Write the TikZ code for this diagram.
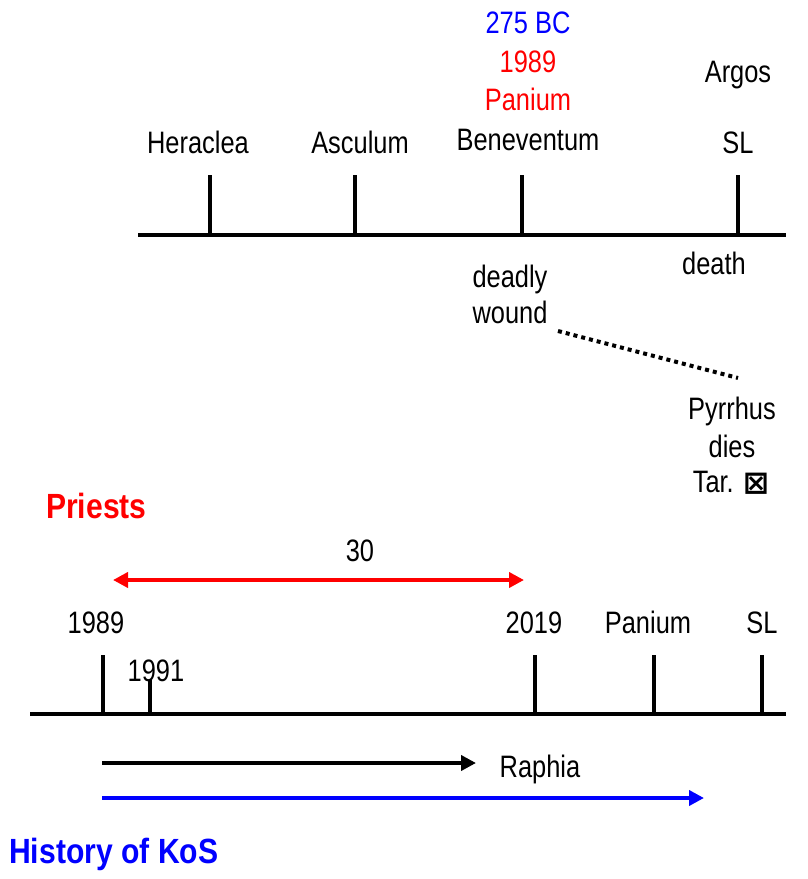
\documentclass[tikz,border=0pt]{standalone}
\usepackage{fontspec}
\setmainfont{Liberation Sans}
\newfontfamily\cond[FakeStretch=0.82]{Liberation Sans}
\newfontfamily\condb[FakeStretch=0.86]{Liberation Sans Bold}
\newfontfamily\symfont{DejaVu Sans Bold}
\usetikzlibrary{arrows.meta}
\tikzset{
  lbl/.style={inner sep=0pt, font=\cond\fontsize{31}{36}\selectfont, text height=22pt, text depth=0pt},
  ttl/.style={inner sep=0pt, font=\condb\fontsize{35}{40}\selectfont, text height=25pt, text depth=0pt, anchor=west},
  axis/.style={line width=4pt},
  tick/.style={line width=4pt},
  arr/.style={line width=4.5pt, -{Triangle[length=15pt,width=15pt]}},
  darr/.style={line width=4.5pt, {Triangle[length=15pt,width=15pt]}-{Triangle[length=15pt,width=15pt]}},
  dotl/.style={line width=4pt, dash pattern=on 4pt off 4pt}
}
\begin{document}
\begin{tikzpicture}[x=1pt,y=-1pt]
\useasboundingbox (0,0) rectangle (807,879);
% top timeline
\coordinate (t0) at (138,235);
\coordinate (t1) at (786,235);
\draw[axis] (t0) -- (t1);
\foreach \n/\x in {a/210,b/355,c/522,d/738}{
  \coordinate (tt\n) at (\x,175);
  \coordinate (tb\n) at (\x,235);
  \draw[tick] (tb\n) -- (tt\n);
}
\node[lbl] (her) at (198,142) {Heraclea};
\node[lbl] (asc) at (360,142) {Asculum};
\node[lbl] (ben) at (528,139) {Beneventum};
\node[lbl, text=blue] (bc) at (528,22) {275 BC};
\node[lbl, text=red] (y89t) at (528,61) {1989};
\node[lbl, text=red] (pant) at (528,99) {Panium};
\node[lbl] (arg) at (738,71) {Argos};
\node[lbl] (slt) at (738,142) {SL};
\node[lbl] (death) at (714,263) {death};
\node[lbl] (deadly) at (510,276) {deadly};
\node[lbl] (wound) at (510,312) {wound};
\coordinate (d0) at (558,331);
\coordinate (d1) at (738,378);
\draw[dotl] (d0) -- (d1);
\node[lbl] (pyr) at (732,408) {Pyrrhus};
\node[lbl] (dies) at (732,446) {dies};
\node[lbl] (tar) at (731,481) {Tar. {\symfont\fontsize{31}{34}\selectfont\raisebox{-1pt}{⊠}}};
% priests
\node[ttl, text=red] (pri) at (46,506) {Priests};
\node[lbl] (thirty) at (360,550) {30};
\coordinate (r0) at (113,580);
\coordinate (r1) at (524,580);
\draw[darr, red] (r0) -- (r1);
% bottom timeline
\coordinate (b0) at (30,714);
\coordinate (b1) at (786,714);
\draw[axis] (b0) -- (b1);
\foreach \n/\x/\y in {a/103/655,b/150/680,c/535/655,d/654/655,e/762/655}{
  \coordinate (bt\n) at (\x,\y);
  \coordinate (bb\n) at (\x,714);
  \draw[tick] (bb\n) -- (bt\n);
}
\node[lbl] (y89) at (96,622) {1989};
\node[lbl] (y91) at (156,670) {1991};
\node[lbl] (y19) at (534,622) {2019};
\node[lbl] (pan) at (648,622) {Panium};
\node[lbl] (slb) at (762,622) {SL};
\coordinate (k0) at (102,763);
\coordinate (k1) at (476,763);
\draw[arr, black] (k0) -- (k1);
\node[lbl] (rap) at (540,766) {Raphia};
\coordinate (u0) at (102,798);
\coordinate (u1) at (704,798);
\draw[arr, blue] (u0) -- (u1);
\node[ttl, text=blue] (hist) at (9,851) {History of KoS};
\end{tikzpicture}
\end{document}
